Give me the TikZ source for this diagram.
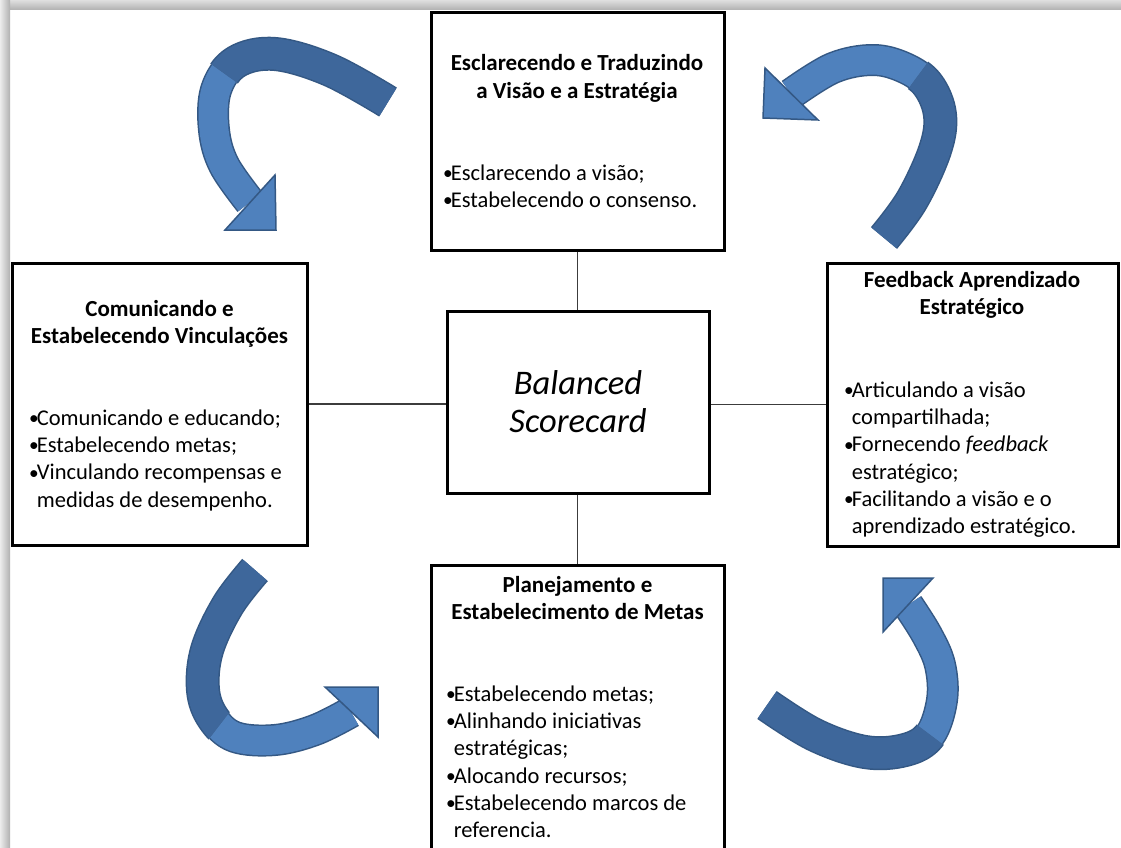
\documentclass[tikz,border=0pt]{standalone}
\usepackage{fontspec}
\usepackage{graphicx}
\setmainfont{Carlito}
\usetikzlibrary{calc}

\definecolor{arrowlight}{RGB}{79,129,189}
\definecolor{arrowdark}{RGB}{62,103,155}
\definecolor{arrowedge}{RGB}{52,88,132}
\definecolor{linkgray}{RGB}{60,60,60}

\newcommand\hdfont{\bfseries\fontsize{23}{27.3}\selectfont}
\newcommand\bdfont{\fontsize{22.5}{27.3}\selectfont}
\newcommand\bsfont{\itshape\fontsize{34.5}{38}\selectfont}
\newcommand\firstline{\rule{0pt}{0.85em}}
\newcommand\dotmark{\makebox[0.34em][l]{\raisebox{0.03em}{\scalebox{0.86}{\textbullet}}}}
\newcommand\cont{\hspace*{0.34em}}

% curved ribbon: fill colour, outer width, inner width, centre line
\newcommand\ribbonpath[4]{%
  \draw[draw=arrowedge, line width=#2, line cap=butt, line join=round]
    plot[smooth, tension=0.6] coordinates {#4};
  \draw[draw=#1, line width=#3, line cap=butt, line join=round]
    plot[smooth, tension=0.6] coordinates {#4};
}

\begin{document}
\begin{tikzpicture}[x=1pt,y=-1pt,
  panel/.style={draw=black, line width=3pt, fill=white, inner sep=0pt},
  heading/.style={anchor=north, align=center, inner sep=0pt, font=\hdfont},
  items/.style={anchor=north west, align=left, inner sep=0pt, font=\bdfont},
  link/.style={draw=linkgray, line width=1.5pt},
  arrowhead/.style={fill=arrowlight, draw=arrowedge, line width=1.5pt, line join=miter}
]
\useasboundingbox (0,0) rectangle (1121,848);
\clip (0,0) rectangle (1121,848);
\fill[white] (0,0) rectangle (1121,848);

% frame shadow along the top and left edges
\shade[top color=gray!25, bottom color=gray!62] (0,0) rectangle (1121,10);
\shade[left color=gray!15, right color=gray!62] (0,0) rectangle (10,848);

% ---------- boxes ----------
\node[panel, minimum width=293, minimum height=237] (vis)  at (577.5,131.5) {};
\node[panel, minimum width=295, minimum height=282] (com)  at (159.5,404) {};
\node[panel, minimum width=291, minimum height=283] (feed) at (972.5,404.5) {};
\node[panel, minimum width=262, minimum height=182] (bsc)  at (578,402) {};
\node[panel, minimum width=293, minimum height=335] (plan) at (577.5,732.5) {};

% ---------- links ----------
\draw[link] (vis.south) -- (vis.south |- bsc.north);
\draw[link] (bsc.south -| plan.north) -- (plan.north);
\draw[link] (com.east) -- (com.east -| bsc.west);
\draw[link] (bsc.east |- feed.west) -- (feed.west);

% ---------- texts ----------
\node[font=\bsfont, align=center, inner sep=0pt] (bscT) at (bsc.center) {Balanced\\Scorecard};

\node[heading] (visT) at (577,51.2) {\firstline Esclarecendo e Traduzindo\\a Visão e a Estratégia};
\node[items] (visB) at (443,160.9) {\firstline\dotmark Esclarecendo a visão;\\\dotmark Estabelecendo o consenso.};

\node[heading] (comT) at (159.5,296.5) {\firstline Comunicando e\\Estabelecendo Vinculações};
\node[items] (comB) at (29,405.9) {\firstline\dotmark Comunicando e educando;\\\dotmark Estabelecendo metas;\\\dotmark Vinculando recompensas e\\\cont medidas de desempenho.};

\node[heading] (feedT) at (972,267.5) {\firstline Feedback Aprendizado\\Estratégico};
\node[items] (feedB) at (844,377.9) {\firstline\dotmark Articulando a visão\\\cont compartilhada;\\\dotmark Fornecendo \textit{feedback}\\\cont estratégico;\\\dotmark Facilitando a visão e o\\\cont aprendizado estratégico.};

\node[heading] (planT) at (577.5,572.5) {\firstline Planejamento e\\Estabelecimento de Metas};
\node[items] (planB) at (446,681.9) {\firstline\dotmark Estabelecendo metas;\\\dotmark Alinhando iniciativas\\\cont estratégicas;\\\dotmark Alocando recursos;\\\dotmark Estabelecendo marcos de\\\cont referencia.};

% ---------- curved arrows ----------
% upper left
\begin{scope}
  \clip (24,-70) -- (428,220) -- (602,-23) -- (198,-313) -- cycle;
  \ribbonpath{arrowdark}{34pt}{31pt}{(388,102) (330,70) (275,54) (236,62) (216,90) (214,130) (224,165) (250,202)}
\end{scope}
\begin{scope}
  \clip (24,-70) -- (428,220) -- (254,463) -- (-150,173) -- cycle;
  \ribbonpath{arrowlight}{32pt}{29pt}{(388,102) (330,70) (275,54) (236,62) (216,90) (214,130) (224,165) (250,202)}
\end{scope}
\filldraw[arrowhead] (275,175) -- (276,230) -- (225,230) -- cycle;

% upper right
\begin{scope}
  \clip (1065,-124) -- (770,276) -- (1010,453) -- (1305,53) -- cycle;
  \ribbonpath{arrowdark}{34pt}{31pt}{(884,238) (912,200) (935,150) (940,115) (928,85) (905,68) (873,60) (833,68) (791,94)}
\end{scope}
\begin{scope}
  \clip (1065,-124) -- (770,276) -- (530,99) -- (825,-301) -- cycle;
  \ribbonpath{arrowlight}{32pt}{29pt}{(884,238) (912,200) (935,150) (940,115) (928,85) (905,68) (873,60) (833,68) (791,94)}
\end{scope}
\filldraw[arrowhead] (765,68) -- (763,118) -- (818,120) -- cycle;

% lower left
\begin{scope}
  \clip (372,528) -- (67,923) -- (-170,740) -- (135,345) -- cycle;
  \ribbonpath{arrowdark}{34pt}{31pt}{(255,570) (228,605) (207,650) (203,690) (213,718) (235,737) (275,740) (315,730) (351,712)}
\end{scope}
\begin{scope}
  \clip (372,528) -- (67,923) -- (304,1106) -- (609,711) -- cycle;
  \ribbonpath{arrowlight}{32pt}{29pt}{(255,570) (228,605) (207,650) (203,690) (213,718) (235,737) (275,740) (315,730) (351,712)}
\end{scope}
\filldraw[arrowhead] (325,687) -- (378,687) -- (378,737) -- cycle;

% lower right
\begin{scope}
  \clip (728,583) -- (1128,883) -- (948,1123) -- (548,823) -- cycle;
  \ribbonpath{arrowdark}{34pt}{31pt}{(767,705) (815,735) (865,752) (905,750) (930,735) (942,700) (940,665) (927,635) (908,605)}
\end{scope}
\begin{scope}
  \clip (728,583) -- (1128,883) -- (1308,643) -- (908,343) -- cycle;
  \ribbonpath{arrowlight}{32pt}{29pt}{(767,705) (815,735) (865,752) (905,750) (930,735) (942,700) (940,665) (927,635) (908,605)}
\end{scope}
\filldraw[arrowhead] (883,578) -- (933,578) -- (883,632) -- cycle;

\end{tikzpicture}
\end{document}
